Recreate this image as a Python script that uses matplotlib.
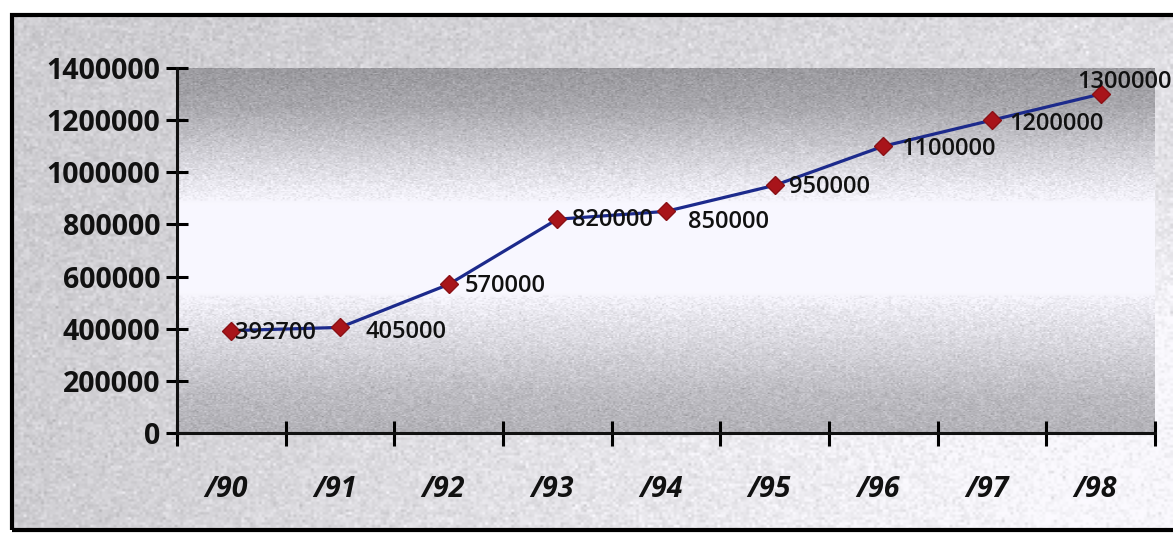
import numpy as np
import matplotlib.pyplot as plt
from matplotlib.patches import Rectangle

years = ['/90', '/91', '/92', '/93', '/94', '/95', '/96', '/97', '/98']
values = [392700, 405000, 570000, 820000, 850000, 950000, 1100000, 1200000, 1300000]
y_ticks = [0, 200000, 400000, 600000, 800000, 1000000, 1200000, 1400000]

# label offsets in pixels (dx, dy, ha)
label_offsets = [(4, -2, 'left'), (26, -5, 'left'), (16, -2, 'left'), (15, -1, 'left'),
                 (22, -11, 'left'), (14, -2, 'left'), (18, -3, 'left'), (17, -4, 'left'),
                 (24, 12, 'center')]

fig = plt.figure(figsize=(11.73, 5.36), dpi=100)
fig.patch.set_facecolor('white')

rng = np.random.default_rng(3)

# page background inside the frame
bg = fig.add_axes([12/1173, 1-530/536, 1-12/1173, (530-15)/536])
bx, by = np.meshgrid(np.linspace(0, 1, 400), np.linspace(0, 1, 200))
base = 0.82 + 0.17 * np.clip(bx * 1.1, 0, 1) * np.clip(by * 1.6, 0, 1)
base = base + 0.06 * np.clip(bx * 1.3 - 0.2, 0, 1) * np.clip(1 - by * 3, 0, 1)
base = np.clip(base + rng.normal(0, 0.03, base.shape), 0, 1)
rgb = np.dstack([base * 0.985, base * 0.98, base])
bg.imshow(np.clip(rgb, 0, 1), aspect='auto', extent=[0, 1, 0, 1], origin='upper')
bg.set_axis_off()
fig.add_artist(Rectangle((12/1173, 1-530/536), 1.0, (530-15)/536,
                         transform=fig.transFigure, fill=False, lw=3, ec='black'))

ax = fig.add_axes([177/1173, 1-433/536, (1155-177)/1173, (433-68)/536])
x = np.arange(len(years))
ax.set_xlim(-0.5, len(years) - 0.5)
ax.set_ylim(0, 1400000)

# plot area shading: gray at top and bottom, white band in the middle
gy = np.linspace(1400000, 0, 300)
shade = np.interp(gy, [0, 150000, 480000, 540000, 880000, 1050000, 1250000, 1400000],
                  [0.72, 0.76, 0.95, 1.0, 1.0, 0.86, 0.68, 0.62])
shade = np.tile(shade[:, None], (1, 500))
shade = np.clip(shade + rng.normal(0, 0.035, shade.shape) * (shade < 0.99), 0, 1)
prgb = np.dstack([shade * 0.975, shade * 0.97, shade])
ax.imshow(np.clip(prgb, 0, 1), aspect='auto', extent=[-0.5, len(years) - 0.5, 0, 1400000],
          origin='upper', zorder=0)

ax.plot(x, values, color='#1c2a8c', lw=2.3, zorder=3)
ax.plot(x, values, ls='none', marker='D', ms=9, color='#a8141a', mec='#8a1015', zorder=4)

for xi, v, (dx, dy, ha) in zip(x, values, label_offsets):
    ax.annotate(str(v), (xi, v), xytext=(dx, dy), textcoords='offset pixels',
                ha=ha, va='center', fontsize=17, fontfamily='Open Sans',
                fontweight='semibold', color='#111111', zorder=5, annotation_clip=False)

for s in ['top', 'right']:
    ax.spines[s].set_visible(False)
for s in ['left', 'bottom']:
    ax.spines[s].set_linewidth(2.2)
    ax.spines[s].set_color('#111111')

ax.set_yticks(y_ticks)
ax.set_yticklabels([str(t) for t in y_ticks], fontsize=20.5, fontfamily='Open Sans',
                   fontweight='bold', color='#111111')
ax.set_xticks(np.arange(len(years) + 1) - 0.5, minor=False)
ax.set_xticklabels([])
ax.set_xticks(x - 0.05, minor=True)
ax.set_xticklabels(years, minor=True, fontsize=20.5, fontfamily='Open Sans',
                   fontweight='bold', fontstyle='italic', color='#111111')
ax.tick_params(axis='y', direction='inout', length=16, width=2.2, pad=4)
ax.tick_params(axis='x', which='major', direction='inout', length=18, width=2.2)
ax.tick_params(axis='x', which='minor', length=0, pad=30)

fig.savefig('out.png', dpi=100)
